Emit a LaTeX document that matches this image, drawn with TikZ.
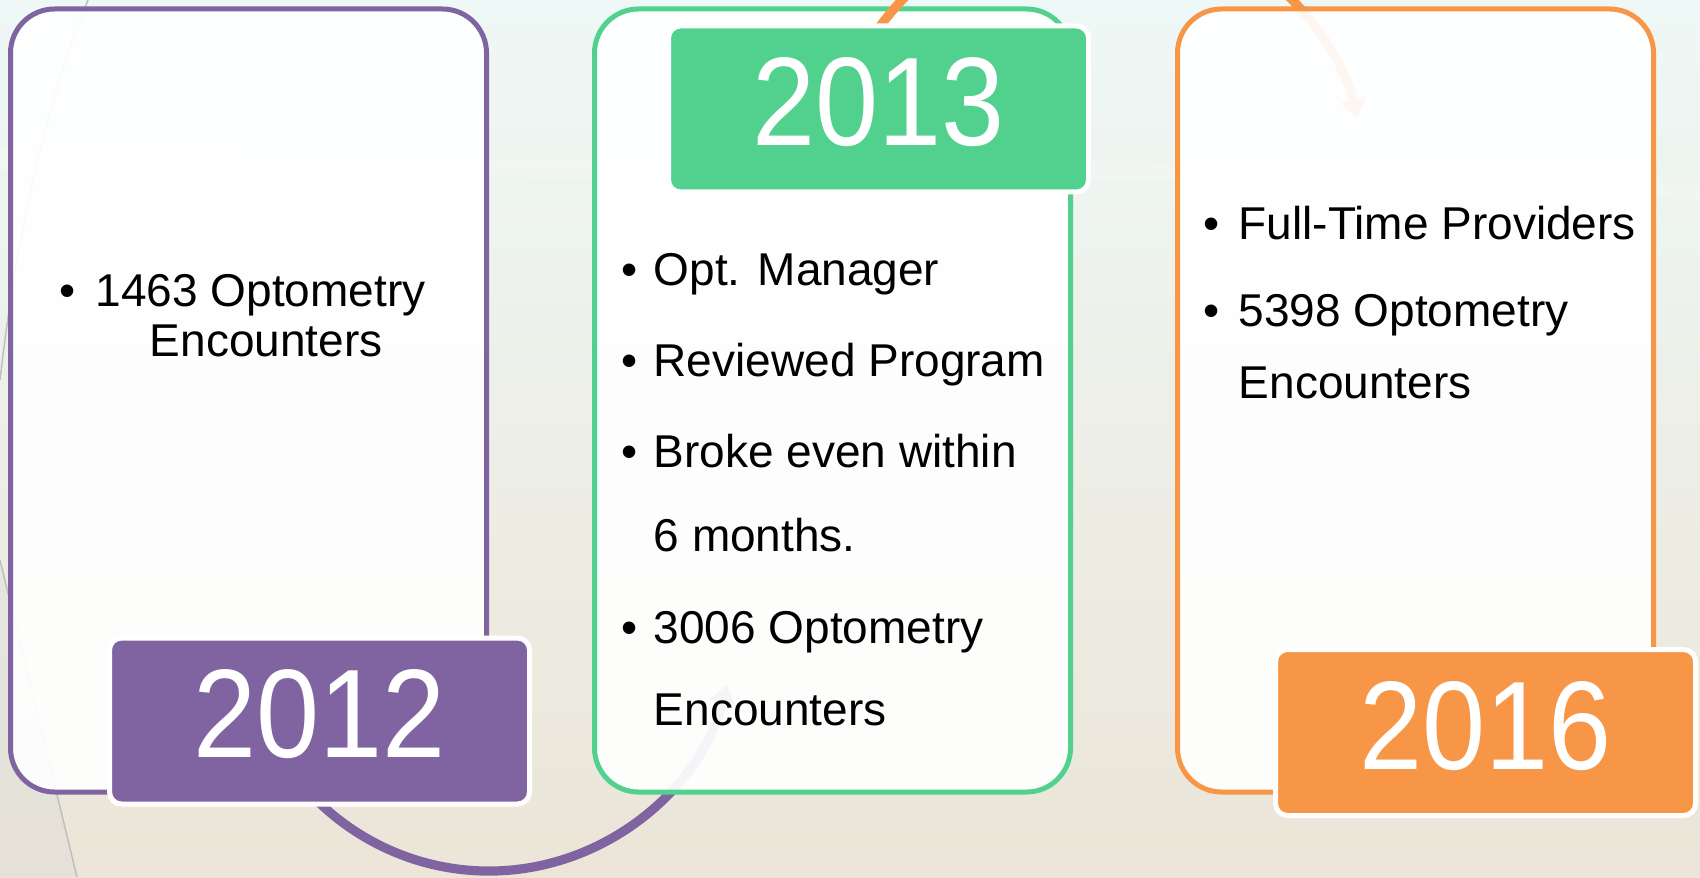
\documentclass[tikz,border=0pt]{standalone}
\usepackage{fontspec}
\setmainfont{Liberation Sans}
\newfontfamily\yearfont{Liberation Sans}[FakeStretch=0.9]
\usetikzlibrary{arrows.meta}

\definecolor{purp}{RGB}{128,100,162}
\definecolor{grn}{RGB}{82,209,142}
\definecolor{orng}{RGB}{247,150,70}
\definecolor{bgtop}{RGB}{238,248,246}
\definecolor{bgmid}{RGB}{246,247,239}
\definecolor{bgbot}{RGB}{236,229,216}

\tikzset{every picture/.style={line width=0.75pt}}
\tikzset{
  yearbox/.style={draw=#1, fill=white, fill opacity=0.93, draw opacity=1, line width=2.5pt,
    rounded corners=22pt, minimum width=238pt, minimum height=391.5pt, inner sep=0pt},
  yearlbl/.style={fill=#1, draw=white, line width=2.5pt, rounded corners=6pt,
    minimum width=210pt, minimum height=83pt, inner sep=0pt, text=white, text depth=7pt,
    font=\yearfont\fontsize{63}{63}\selectfont},
  bodytxt/.style={anchor=base west, inner sep=0pt, font=\fontsize{23}{23}\selectfont},
  bulletdot/.style={anchor=base, inner sep=0pt, font=\fontsize{23}{23}\selectfont},
  loopline/.style={draw=#1, line width=4.6pt, -{Triangle[width=13pt,length=9pt]}},
}

\begin{document}
\begin{tikzpicture}[x=0.5pt,y=0.5pt,yscale=-1,xscale=1]
\useasboundingbox (0,0) rectangle (1700,877);
\clip (0,0) rectangle (1700,877);

%Background
\shade[top color=bgtop, middle color=bgmid, bottom color=bgbot] (0,0) rectangle (1700,877);
\fill[white, opacity=0.2] (0,150) .. controls (600,175) and (1100,140) .. (1700,185) -- (1700,200) .. controls (1100,160) and (600,190) .. (0,170) -- cycle;
\fill[black!15, opacity=0.35] (0,560) -- (77,877) -- (0,877) -- cycle;
\draw[black!25] (88,0) .. controls (40,120) and (15,250) .. (0,380);
\draw[black!25] (0,560) -- (77,877);

%Rounded Rect 2012
\node[yearbox=purp] (box12) at (248.5,400.5) {};
%Curve Arrow 2012 to 2013
\coordinate (c12) at (489,626);
\draw[loopline=purp] (c12) ++(166:245) arc[start angle=166, end angle=14, radius=245];

%Rounded Rect 2013
\node[yearbox=grn] (box13) at (832.5,400.5) {};
%Curve Arrow 2013 to 2016
\coordinate (c13) at (1097,187);
\draw[loopline=orng] (c13) ++(-150:270) arc[start angle=-150, end angle=-15, radius=270];

%Rounded Rect 2016
\node[yearbox=orng] (box16) at (1415.5,400.5) {};

%Year Labels
\node[yearlbl=purp] (lbl12) at (319.5,721) {2012};
\node[yearlbl=grn] (lbl13) at (878.5,109) {2013};
\node[yearlbl=orng] (lbl16) at (1485.5,732.5) {2016};

% Text Node
\node[bulletdot] (b12a) at (68,306) {•};
\node[bodytxt] (t12a) at (95,306) {1463 Optometry};
\node[bodytxt] (t12b) at (149,356) {Encounters};
% Text Node
\node[bulletdot] (b13a) at (630,285) {•};
\node[bodytxt] (t13a) at (653,285) {Opt. Manager};
\node[bulletdot] (b13b) at (630,376) {•};
\node[bodytxt] (t13b) at (653,376) {Reviewed Program};
\node[bulletdot] (b13c) at (630,467) {•};
\node[bodytxt] (t13c) at (653,467) {Broke even within};
\node[bodytxt] (t13d) at (653,551) {6 months.};
\node[bulletdot] (b13e) at (630,643) {•};
\node[bodytxt] (t13e) at (653,643) {3006 Optometry};
\node[bodytxt] (t13f) at (653,725) {Encounters};
% Text Node
\node[bulletdot] (b16a) at (1212,240) {•};
\node[bodytxt] (t16a) at (1238,240) {Full-Time Providers};
\node[bulletdot] (b16b) at (1212,326) {•};
\node[bodytxt] (t16b) at (1238,326) {5398 Optometry};
\node[bodytxt] (t16c) at (1238,398) {Encounters};

\end{tikzpicture}
\end{document}
